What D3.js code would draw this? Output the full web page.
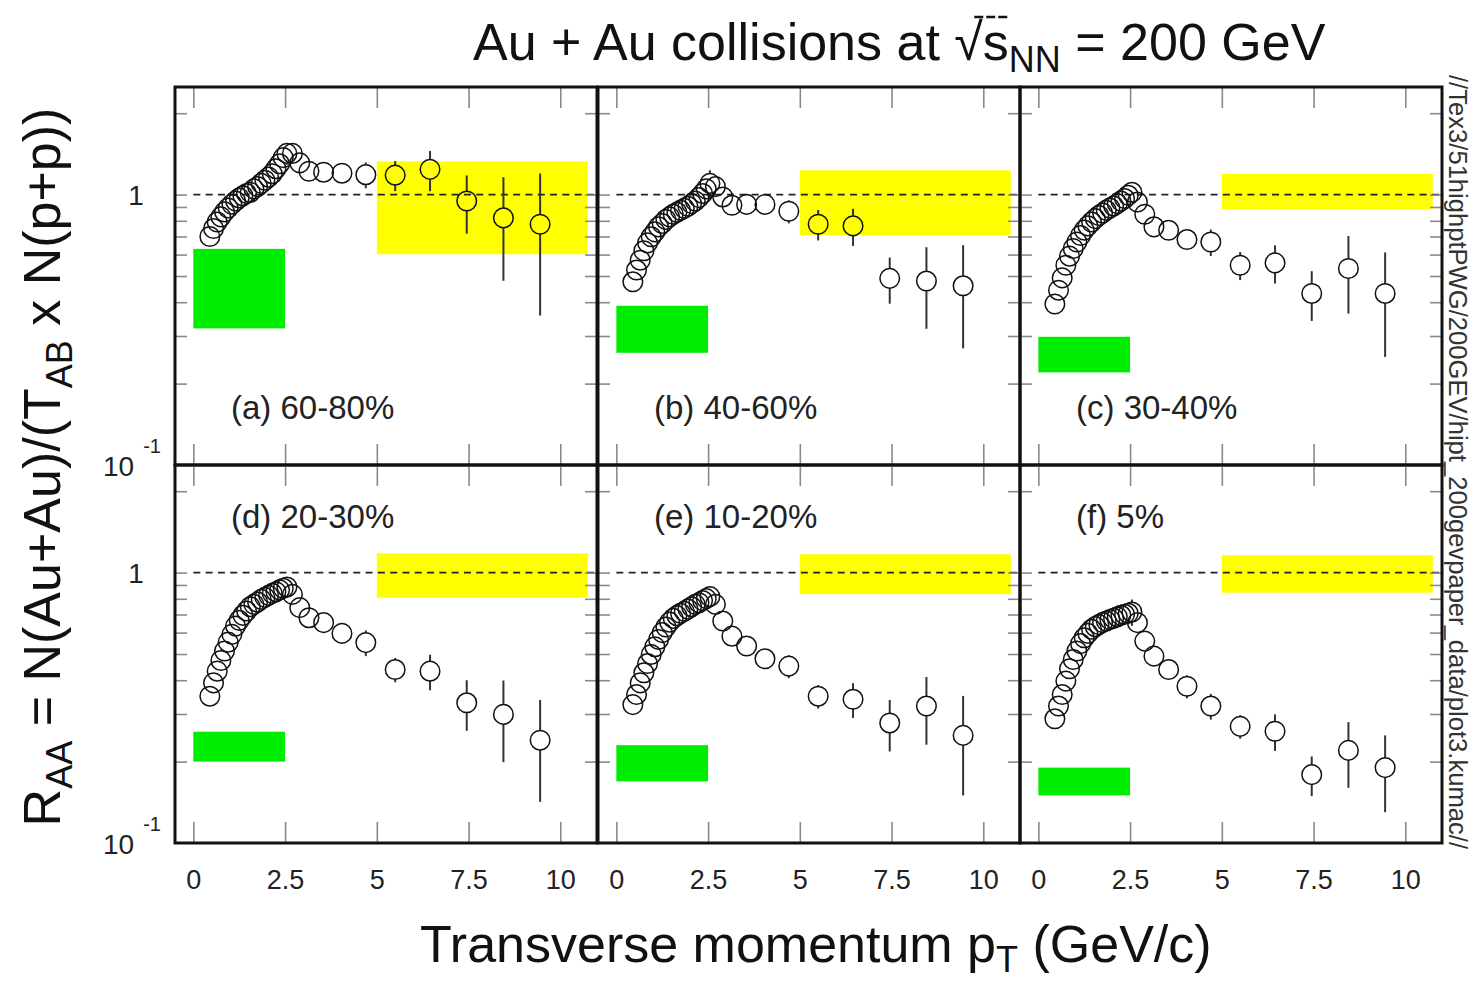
<!DOCTYPE html>
<html>
<head>
<meta charset="utf-8">
<script src="https://cdn.jsdelivr.net/npm/d3@7"></script>
<style>
  body { margin: 0; background: #fff; }
  svg { display: block; }
  text { font-family: "Liberation Sans", Arial, Helvetica, sans-serif; }
</style>
</head>
<body>
<svg id="chart" width="1473" height="983"></svg>
<script>
// Transverse momentum bin centres (GeV/c), shared by every centrality class
const pT = [0.45, 0.55, 0.65, 0.75, 0.85, 0.95, 1.05, 1.15, 1.25, 1.35, 1.45,
            1.55, 1.65, 1.75, 1.85, 1.95, 2.05, 2.15, 2.25, 2.35, 2.45, 2.55,
            2.7, 2.9, 3.15, 3.55, 4.05, 4.7, 5.5, 6.45, 7.45, 8.45, 9.45];

const panelLabels = ["(a) 60-80%", "(b) 40-60%", "(c) 30-40%",
                     "(d) 20-30%", "(e) 10-20%", "(f) 5%"];

// Nuclear modification factor R_AA per centrality class
const raa_60_80 = [0.70, 0.749, 0.792, 0.827, 0.863, 0.892, 0.921, 0.947, 0.972, 0.99, 1.01,
                   1.02, 1.05, 1.07, 1.10, 1.13, 1.16, 1.195, 1.247, 1.30, 1.37, 1.42,
                   1.42, 1.31, 1.22, 1.21, 1.20, 1.185, 1.18, 1.24, 0.947, 0.82, 0.777];
const raa_40_60 = [0.476, 0.526, 0.572, 0.62, 0.663, 0.698, 0.728, 0.76, 0.782, 0.809, 0.827,
                   0.846, 0.86, 0.875, 0.89, 0.905, 0.926, 0.947, 0.975, 1.01, 1.05, 1.10,
                   1.07, 0.98, 0.913, 0.92, 0.92, 0.868, 0.777, 0.766, 0.49, 0.479, 0.46];
const raa_30_40 = [0.394, 0.443, 0.492, 0.548, 0.592, 0.632, 0.668, 0.706, 0.739, 0.766, 0.792,
                   0.815, 0.837, 0.855, 0.875, 0.892, 0.908, 0.926, 0.947, 0.967, 0.994, 1.02,
                   0.939, 0.846, 0.76, 0.738, 0.682, 0.668, 0.548, 0.559, 0.431, 0.533, 0.431];
const raa_20_30 = [0.349, 0.391, 0.432, 0.473, 0.513, 0.553, 0.591, 0.634, 0.666, 0.695, 0.721,
                   0.748, 0.763, 0.778, 0.796, 0.81, 0.824, 0.838, 0.85, 0.863, 0.875, 0.885,
                   0.831, 0.742, 0.681, 0.653, 0.596, 0.551, 0.438, 0.432, 0.33, 0.299, 0.24];
const raa_10_20 = [0.325, 0.354, 0.391, 0.426, 0.461, 0.498, 0.532, 0.566, 0.60, 0.629, 0.656,
                   0.677, 0.693, 0.707, 0.719, 0.733, 0.748, 0.763, 0.774, 0.788, 0.801, 0.815,
                   0.763, 0.662, 0.582, 0.535, 0.48, 0.451, 0.349, 0.34, 0.278, 0.321, 0.25];
const raa_0_5   = [0.288, 0.321, 0.354, 0.397, 0.441, 0.477, 0.513, 0.546, 0.574, 0.596, 0.617,
                   0.631, 0.642, 0.653, 0.662, 0.67, 0.677, 0.687, 0.695, 0.701, 0.707, 0.715,
                   0.653, 0.558, 0.491, 0.438, 0.38, 0.321, 0.27, 0.259, 0.179, 0.22, 0.19];

// Statistical errors (absolute)
const err_60_80 = [0.02, 0.02, 0.02, 0.02, 0.02, 0.02, 0.02, 0.02, 0.02, 0.02, 0.02,
                   0.03, 0.03, 0.03, 0.03, 0.03, 0.03, 0.04, 0.04, 0.05, 0.10, 0.13,
                   0.07, 0.06, 0.06, 0.08, 0.09, 0.13, 0.15, 0.21, 0.23, 0.34, 0.42];
const err_40_60 = [0.015, 0.015, 0.015, 0.015, 0.015, 0.02, 0.02, 0.02, 0.02, 0.02, 0.02,
                   0.02, 0.02, 0.02, 0.02, 0.03, 0.03, 0.03, 0.03, 0.04, 0.08, 0.13,
                   0.05, 0.05, 0.05, 0.05, 0.06, 0.085, 0.10, 0.12, 0.095, 0.16, 0.19];
const err_30_40 = [0.01, 0.01, 0.015, 0.015, 0.015, 0.015, 0.02, 0.02, 0.02, 0.02, 0.02,
                   0.02, 0.02, 0.02, 0.02, 0.02, 0.03, 0.03, 0.03, 0.03, 0.05, 0.09,
                   0.04, 0.04, 0.04, 0.04, 0.055, 0.075, 0.065, 0.09, 0.09, 0.17, 0.18];
const err_20_30 = [0.01, 0.01, 0.01, 0.01, 0.015, 0.015, 0.015, 0.015, 0.015, 0.02, 0.02,
                   0.02, 0.02, 0.02, 0.02, 0.02, 0.02, 0.02, 0.03, 0.03, 0.03, 0.05,
                   0.03, 0.03, 0.03, 0.03, 0.04, 0.06, 0.045, 0.065, 0.07, 0.10, 0.098];
const err_10_20 = [0.01, 0.01, 0.01, 0.01, 0.01, 0.015, 0.015, 0.015, 0.015, 0.015, 0.02,
                   0.02, 0.02, 0.02, 0.02, 0.02, 0.02, 0.02, 0.03, 0.03, 0.04, 0.077,
                   0.03, 0.03, 0.03, 0.03, 0.035, 0.044, 0.035, 0.05, 0.06, 0.09, 0.10];
const err_0_5   = [0.01, 0.01, 0.01, 0.01, 0.01, 0.01, 0.015, 0.015, 0.015, 0.015, 0.015,
                   0.015, 0.015, 0.02, 0.02, 0.02, 0.02, 0.02, 0.02, 0.03, 0.04, 0.08,
                   0.025, 0.025, 0.025, 0.025, 0.037, 0.035, 0.027, 0.04, 0.03, 0.06, 0.06];

const raaSeries = [raa_60_80, raa_40_60, raa_30_40, raa_20_30, raa_10_20, raa_0_5];
const errSeries = [err_60_80, err_40_60, err_30_40, err_20_30, err_10_20, err_0_5];

// Overall normalisation uncertainty (green, 0 < pT < 2.5)
const normLow  = [0.32, 0.26, 0.22, 0.20, 0.169, 0.15];
const normHigh = [0.63, 0.388, 0.298, 0.258, 0.23, 0.19];
const normRange = [0, 2.5];
// N_coll scaling uncertainty band (yellow, pT > 5)
const bandLow  = [0.602, 0.708, 0.883, 0.808, 0.832, 0.843];
const bandHigh = [1.327, 1.229, 1.195, 1.179, 1.169, 1.159];
const bandRange = [5, 10.75];

const xTicks = [0, 2.5, 5, 7.5, 10];
const xTickLabels = ["0", "2.5", "5", "7.5", "10"];
const yTicks = [0.2, 0.3, 0.4, 0.5, 0.6, 0.7, 0.8, 0.9, 1, 2];
const xDomain = [-0.5, 11];
const yDomain = [0.1, 2.5];

// ---- layout ----
const svg = d3.select("#chart");
const colX = [175, 598, 1020];
const rowY = [87, 465];
const PW = 422, PH = 378;
const R = 9.8;

function panel(i) {
  const col = i % 3, row = Math.floor(i / 3);
  const x0 = colX[col], y0 = rowY[row];
  const x = d3.scaleLinear().domain(xDomain).range([x0, x0 + PW]);
  const y = d3.scaleLog().domain(yDomain).range([y0 + PH, y0]);
  const g = svg.append("g").attr("class", "panel");

  // uncertainty boxes
  g.append("rect")
    .attr("x", x(bandRange[0])).attr("width", x(bandRange[1]) - x(bandRange[0]))
    .attr("y", y(bandHigh[i])).attr("height", y(bandLow[i]) - y(bandHigh[i]))
    .attr("fill", "#ffff00");
  g.append("rect")
    .attr("x", x(normRange[0])).attr("width", x(normRange[1]) - x(normRange[0]))
    .attr("y", y(normHigh[i])).attr("height", y(normLow[i]) - y(normHigh[i]))
    .attr("fill", "#00ec00");

  // unity reference line
  g.append("line")
    .attr("x1", x(0)).attr("x2", x(11)).attr("y1", y(1)).attr("y2", y(1))
    .attr("stroke", "#222").attr("stroke-width", 1.8).attr("stroke-dasharray", "7,5.3");

  // ticks
  const tickStyle = sel => {
    sel.select(".domain").remove();
    sel.selectAll(".tick line").attr("stroke", "#8a8a8a").attr("stroke-width", 1.6);
    sel.selectAll(".tick text").remove();
  };
  g.append("g").attr("transform", `translate(0,${y0 + PH})`)
    .call(d3.axisBottom(x).tickValues(xTicks).tickSize(-21)).call(tickStyle);
  g.append("g").attr("transform", `translate(0,${y0})`)
    .call(d3.axisTop(x).tickValues(xTicks).tickSize(-21)).call(tickStyle);
  g.append("g").attr("transform", `translate(${x0},0)`)
    .call(d3.axisLeft(y).tickValues(yTicks).tickSize(-12)).call(tickStyle);
  g.append("g").attr("transform", `translate(${x0 + PW},0)`)
    .call(d3.axisRight(y).tickValues(yTicks).tickSize(-12)).call(tickStyle);

  // data
  const pts = pT.map((p, k) => ({ p, v: raaSeries[i][k], e: errSeries[i][k] }));
  const eg = g.append("g").attr("stroke", "#333").attr("stroke-width", 2);
  pts.forEach(d => {
    const cy = y(d.v), cx = x(d.p);
    const top = y(d.v + d.e), bot = y(Math.max(d.v - d.e, 0.05));
    if (top < cy - R) eg.append("line").attr("x1", cx).attr("x2", cx).attr("y1", top).attr("y2", cy - R);
    if (bot > cy + R) eg.append("line").attr("x1", cx).attr("x2", cx).attr("y1", cy + R).attr("y2", Math.min(bot, y0 + PH));
  });
  g.append("g").selectAll("circle").data(pts).join("circle")
    .attr("cx", d => x(d.p)).attr("cy", d => y(d.v)).attr("r", R)
    .attr("fill", "none").attr("stroke", "#111").attr("stroke-width", 1.5);

  // centrality label
  g.append("text")
    .attr("x", x0 + 56).attr("y", row === 0 ? y0 + 332 : y0 + 63)
    .attr("font-size", 33).attr("fill", "#222").text(panelLabels[i]);

  // frame
  g.append("rect").attr("x", x0).attr("y", y0).attr("width", PW).attr("height", PH)
    .attr("fill", "none").attr("stroke", "#111").attr("stroke-width", 3);

  // axis labels
  if (row === 1) {
    const ax = g.append("g").attr("transform", `translate(0,${y0 + PH})`)
      .call(d3.axisBottom(x).tickValues(xTicks).tickSize(0).tickPadding(27)
        .tickFormat((d, k) => xTickLabels[k]));
    ax.select(".domain").remove();
    ax.selectAll("text").attr("font-size", 27).attr("fill", "#222")
      .style("font-family", "'Liberation Sans', Arial, sans-serif");
  }
  if (col === 0) {
    g.append("text").attr("x", 136).attr("y", y(1) + 10).attr("text-anchor", "middle")
      .attr("font-size", 28).attr("fill", "#222").text("1");
    const t = g.append("text").attr("x", 103).attr("y", y(0.1) + 11)
      .attr("font-size", 28).attr("fill", "#222");
    t.append("tspan").text("10");
    t.append("tspan").attr("dx", 9).attr("dy", -23).attr("font-size", 20).text("-1");
  }
}

for (let i = 0; i < 6; i++) panel(i);

// title
const title = svg.append("text").attr("x", 473).attr("y", 60)
  .attr("font-size", 52).attr("fill", "#111");
title.append("tspan").text("Au + Au collisions at \u221As");
title.append("tspan").attr("font-size", 36).attr("dy", 12).text("NN");
title.append("tspan").attr("dy", -12).text(" = 200 GeV");
{
  const n = "Au + Au collisions at ".length;
  const rs = title.node().getExtentOfChar(n);
  const ss = title.node().getExtentOfChar(n + 1);
  svg.append("line")
    .attr("x1", rs.x + rs.width * 0.7).attr("x2", ss.x + ss.width)
    .attr("y1", rs.y + 4).attr("y2", rs.y + 4)
    .attr("stroke", "#111").attr("stroke-width", 2.5).attr("stroke-dasharray", "9,3");
}

// x axis title
const xt = svg.append("text").attr("x", 420).attr("y", 962)
  .attr("font-size", 52).attr("fill", "#111");
xt.append("tspan").text("Transverse momentum p");
xt.append("tspan").attr("font-size", 36).attr("dy", 10).text("T");
xt.append("tspan").attr("dy", -10).text(" (GeV/c)");

// y axis title
const yt = svg.append("text").attr("transform", "translate(60,467) rotate(-90)")
  .attr("text-anchor", "middle").attr("font-size", 52).attr("fill", "#111");
yt.append("tspan").text("R");
yt.append("tspan").attr("font-size", 36).attr("dy", 12).text("AA");
yt.append("tspan").attr("dy", -12).text(" = N(Au+Au)/(T");
yt.append("tspan").attr("font-size", 36).attr("dy", 12).text("AB");
yt.append("tspan").attr("dy", -12).text(" x N(p+p))");

// macro path annotation along the right edge
svg.append("text").attr("transform", "translate(1449,75) rotate(90)")
  .attr("font-size", 25.6).attr("fill", "#333")
  .text("//Tex3/51highptPWG/200GEV/hipt_200gevpaper_data/plot3.kumac//");
</script>
</body>
</html>
